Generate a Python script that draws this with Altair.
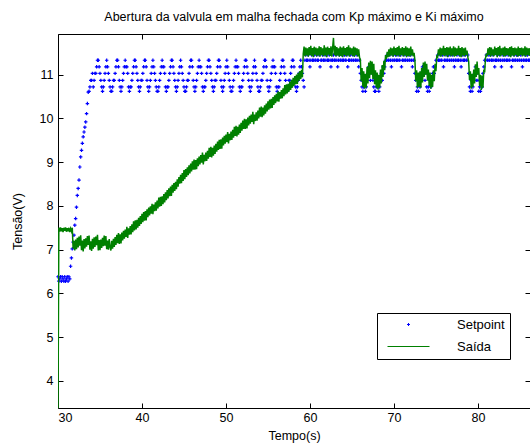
import altair as alt
import pandas as pd

DT = 0.1  # sampling period of the acquisition (s)

# Quantised levels of the setpoint signal (V)
A, B, C, D, E, F, G = 10.62, 10.72, 10.87, 11.03, 11.18, 11.33, 11.45

# ---------------- Setpoint ----------------
sp_inicio = [6.38, 6.28, 6.33, 6.38, 6.28, 6.38, 6.33, 6.28, 6.38, 6.28,
             6.33, 6.38, 6.28, 6.38, 6.33]
sp_rampa = [6.62, 6.81, 7.02, 7.17, 7.33, 7.56, 7.71, 7.97, 8.24, 8.40, 8.59,
            8.89, 9.12, 9.27, 9.43, 9.58, 9.69, 9.80, 9.92, 10.11, 10.34, 10.60]
sp_oscila = [A, B, C, C, D, B, C, D,
             D, E, F, F, E, D, C, B, A, B, C,
             D, E, F, E, D, C, B, A, A, B, C,
             C, D, E, F, F, E, C, B, A, B, C,
             D, E, F, E, E, D, B, A, B, B, C,
             D, E, F, F, E, D, C, B, A, B, C,
             C, D, E, F, F, E, C, B, A, B, C,
             D, E, F, E, D, C, B, A, A, B, C,
             D, E, F, E, E, D, B, A, B, B, C,
             D, E, F, F, E, D, C, B, A, B, C,
             D, E, F, E, D, C, B, A, A, B, C,
             C, D, E, F, F, E, C, B, A, B, C,
             D, E, F, E, E, D, B, A, B, B, C,
             D, E, F, F, E, D, C, B, A, B, C,
             C, D, E, F, F, E, C, B, A, B, C,
             D, E, F, E, D, C, B, A, A, B, C,
             D, E, F, E, E, D, B, A, B, B, C,
             D, E, F, F, E, D, C, B, A, B, C,
             D, E, F, E, D, C, B, A, A, B, C,
             C, D, E, F, F, E, C, B, A, B, C,
             D, E, F, E, E, D, B, A, B, B, C,
             D, E, F, F, E, D, C, B, A, B, C,
             C, D, E, F, F, E, C, B, A, B, C,
             D, E, F, E, D, C, B]
sp_patamar_1 = [F, G, F, F, G, F, E, F, G, F, F,
                G, F, F, G, F, F, G, E, F, F, G,
                F, F, G, F, G, F, F, G, F, E, F,
                F, G, F, F, G, F, E, F, G, F, F,
                G, F, F, G, F, F, G, E, F, F, G,
                F, F, G, F, G, F, F, G, F, E, F]
sp_queda_1 = [D, C, B, A, B, C, A, B, C, D, E, D, C, E, D, C, B, A, A, B,
              C, B, A, B, C, D, C, E, D, E, F]
sp_patamar_2 = [F, G, F, F, G, F, E, F, G, F, F,
                G, F, F, G, F, F, G, E, F, F, G,
                F, F, G, F, G, F, F, G, F, E, F, F]
sp_queda_2 = [D, C, A, B, A, C, B, D, C, E, D, E, C, D, B, A, B, A, C, B,
              C, D, E, D, E, F, F]
sp_patamar_3 = [G, F, F, G, F, F, G, E, F, F, G,
                F, F, G, F, G, F, F, G, F, E, F,
                F, G, F, F, G, F, E, F, G, F, F,
                G, F, F, G]
sp_queda_3 = [D, B, A, C, A, B, C, D, E, C, D, C, A, B, A, C, B, D, E, F,
              F, G]
sp_patamar_4 = [F, F, G, F, G, F, F, G, F, E, F,
                F, G, F, F, G, F, E, F, G, F, F,
                G, F, F, G, F, F, G, E, F, F, G,
                F, F, G, F, G, F, F, G, F, E, F,
                F, G, F, F, G, F, F, F]

# ---------------- Saída (measured output) ----------------
saida_partida = [3.38]
saida_inicial = [7.50, 7.41, 7.51, 7.42, 7.49, 7.40, 7.50, 7.43, 7.51, 7.41,
                 7.49, 7.42, 7.50, 7.40, 7.48, 7.42, 7.50]
saida_degrau = [7.02, 7.20, 6.98, 7.23, 7.01, 7.27, 7.05, 7.30, 7.09, 7.33,
                6.99, 7.21, 6.96, 7.24, 7.03, 7.26, 7.07, 7.31, 7.11, 7.32,
                7.00, 7.19, 6.97, 7.25, 7.02, 7.28, 7.06, 7.30, 7.10, 7.34,
                6.98, 7.22, 6.99, 7.23, 7.04, 7.27, 7.08, 7.32, 7.09, 7.31,
                7.01, 7.21, 7.00, 7.24, 7.06]
saida_rampa = [6.98, 7.20, 7.02, 7.25, 7.06, 7.29, 7.11, 7.34, 7.15, 7.38,
               7.13, 7.35, 7.14, 7.39, 7.21, 7.43, 7.25, 7.46, 7.29, 7.52,
               7.27, 7.49, 7.34, 7.54, 7.35, 7.58, 7.40, 7.65, 7.44, 7.67,
               7.46, 7.68, 7.50, 7.73, 7.54, 7.77, 7.59, 7.82, 7.63, 7.86,
               7.66, 7.88, 7.67, 7.92, 7.74, 7.96, 7.78, 7.99, 7.82, 8.05,
               7.81, 8.03, 7.88, 8.08, 7.89, 8.12, 7.94, 8.19, 7.98, 8.21,
               8.00, 8.22, 8.04, 8.27, 8.08, 8.31, 8.13, 8.36, 8.17, 8.40,
               8.22, 8.44, 8.23, 8.48, 8.30, 8.52, 8.34, 8.55, 8.38, 8.61,
               8.44, 8.66, 8.51, 8.71, 8.52, 8.75, 8.57, 8.82, 8.61, 8.84,
               8.66, 8.88, 8.70, 8.93, 8.74, 8.97, 8.79, 9.02, 8.83, 9.06,
               8.83, 9.05, 8.84, 9.09, 8.91, 9.13, 8.95, 9.16, 8.99, 9.22,
               8.95, 9.17, 9.02, 9.22, 9.03, 9.26, 9.08, 9.33, 9.12, 9.35,
               9.11, 9.33, 9.15, 9.38, 9.19, 9.42, 9.24, 9.47, 9.28, 9.51,
               9.30, 9.52, 9.31, 9.56, 9.38, 9.60, 9.42, 9.63, 9.46, 9.69,
               9.43, 9.65, 9.50, 9.70, 9.51, 9.74, 9.56, 9.81, 9.60, 9.83,
               9.59, 9.81, 9.63, 9.86, 9.67, 9.90, 9.72, 9.95, 9.76, 9.99,
               9.76, 9.98, 9.77, 10.02, 9.84, 10.06, 9.88, 10.09, 9.92, 10.15,
               9.87, 10.09, 9.94, 10.14, 9.95, 10.18, 10.00, 10.25, 10.04, 10.27,
               10.03, 10.25, 10.07, 10.30, 10.11, 10.34, 10.16, 10.39, 10.20, 10.43,
               10.23, 10.45, 10.24, 10.49, 10.31, 10.53, 10.35, 10.56, 10.39, 10.62,
               10.38, 10.60, 10.45, 10.65, 10.46, 10.69, 10.51, 10.76, 10.55, 10.78,
               10.57, 10.79, 10.61, 10.84, 10.65, 10.88, 10.70, 10.93, 10.74, 10.97,
               10.78, 11.00, 10.79, 11.04, 10.86, 11.08, 10.90, 11.11, 10.94]
saida_alta_1 = [11.48, 11.64, 11.42, 11.62, 11.44, 11.60, 11.41, 11.63, 11.45, 11.66,
                11.43, 11.61, 11.40, 11.64, 11.46, 11.62, 11.42, 11.60, 11.44, 11.65,
                11.41, 11.63, 11.45, 11.60, 11.42, 11.67, 11.44, 11.62, 11.40, 11.64,
                11.46, 11.61, 11.43, 11.65, 11.41, 11.62, 11.84, 11.45, 11.66, 11.42,
                11.63, 11.44, 11.60, 11.41, 11.64, 11.43, 11.62, 11.40, 11.65, 11.45,
                11.61, 11.42, 11.63, 11.44, 11.67, 11.41, 11.62, 11.46, 11.60, 11.43,
                11.64, 11.41, 11.62, 11.45, 11.60, 11.42, 11.58, 11.40]
saida_queda_1 = [11.35, 10.85, 11.15, 10.72, 11.08, 10.68, 11.02, 10.70, 11.18, 10.80,
                 11.28, 10.92, 11.32, 11.00, 11.30, 10.90, 11.25, 10.78, 11.10, 10.70,
                 11.05, 10.66, 11.00, 10.70, 11.12, 10.80, 11.22, 10.95, 11.32, 11.10,
                 11.45]
saida_alta_2 = [11.36, 11.52, 11.40, 11.58, 11.42, 11.62, 11.44, 11.60, 11.41, 11.64,
                11.45, 11.61, 11.42, 11.63, 11.44, 11.66, 11.41, 11.60, 11.45, 11.63,
                11.42, 11.61, 11.44, 11.65, 11.40, 11.62, 11.43, 11.60, 11.41, 11.64,
                11.44, 11.58, 11.42, 11.50]
saida_queda_2 = [11.32, 10.85, 11.10, 10.70, 11.05, 10.72, 11.08, 10.70, 11.15, 10.82,
                 11.28, 10.95, 11.30, 11.00, 11.25, 10.86, 11.12, 10.74, 11.05, 10.68,
                 11.00, 10.72, 11.10, 10.85, 11.25, 11.08, 11.42]
saida_alta_3 = [11.40, 11.58, 11.44, 11.62, 11.41, 11.60, 11.45, 11.66, 11.42, 11.61,
                11.44, 11.63, 11.40, 11.62, 11.45, 11.64, 11.42, 11.60, 11.44, 11.65,
                11.41, 11.62, 11.43, 11.60, 11.45, 11.66, 11.42, 11.61, 11.40, 11.63,
                11.44, 11.60, 11.42, 11.62, 11.45, 11.55, 11.40]
saida_queda_3 = [11.30, 10.88, 11.08, 10.68, 11.02, 10.72, 11.12, 10.80, 11.24, 10.95,
                 11.30, 11.00, 11.15, 10.74, 11.00, 10.65, 10.98, 10.70, 11.12, 11.05,
                 11.38, 11.48]
saida_alta_4 = [11.42, 11.60, 11.45, 11.63, 11.41, 11.62, 11.44, 11.58, 11.42, 11.64,
                11.45, 11.61, 11.40, 11.63, 11.44, 11.66, 11.42, 11.60, 11.45, 11.62,
                11.41, 11.64, 11.43, 11.61, 11.45, 11.60, 11.42, 11.63, 11.40, 11.65,
                11.44, 11.61, 11.42, 11.62, 11.45, 11.60, 11.41, 11.64, 11.43, 11.61,
                11.45, 11.62, 11.42, 11.60, 11.44, 11.65, 11.41, 11.62, 11.45, 11.60,
                11.43, 11.61]

# (start time in s, samples) for each stretch of the record
trechos_setpoint = [(30.0, sp_inicio), (31.5, sp_rampa), (33.7, sp_oscila),
                    (59.4, sp_patamar_1), (66.0, sp_queda_1), (69.1, sp_patamar_2),
                    (72.5, sp_queda_2), (75.2, sp_patamar_3), (78.9, sp_queda_3),
                    (81.1, sp_patamar_4)]
trechos_saida = [(30.0, saida_partida), (30.1, saida_inicial), (31.8, saida_degrau),
                 (36.3, saida_rampa), (59.2, saida_alta_1), (66.0, saida_queda_1),
                 (69.1, saida_alta_2), (72.5, saida_queda_2), (75.2, saida_alta_3),
                 (78.9, saida_queda_3), (81.1, saida_alta_4)]

marcas_x = [30, 40, 50, 60, 70, 80]
marcas_y = [4, 5, 6, 7, 8, 9, 10, 11]


def tabela(trechos, nome):
    linhas = []
    for t0, valores in trechos:
        for k, v in enumerate(valores):
            linhas.append({"t": round(t0 + k * DT, 2), "v": v, "serie": nome})
    return pd.DataFrame(linhas)


df_sp = tabela(trechos_setpoint, "Setpoint")
df_saida = tabela(trechos_saida, "Saída")

LARG, ALT = 472, 374
FONTE = "Liberation Sans"
PONTO = "M-1,0L1,0M0,-1L0,1"  # small "+" marker

escala_x = alt.Scale(domain=[30, 86.2], nice=False, zero=False)
escala_y = alt.Scale(domain=[3.38, 11.93], nice=False, zero=False)


def eixo_tracos(orient, offset, valores):
    # tick marks pointing into the plot box, no labels
    return alt.Axis(orient=orient, offset=offset, values=valores, labels=False,
                    domain=False, grid=False, ticks=True, tickSize=5,
                    tickColor="black", tickWidth=1, title=None)


legenda = alt.Legend(
    title=None, orient="none", legendX=319, legendY=279,
    fillColor="white", strokeColor="black", padding=5,
    symbolSize=100, symbolOffset=20, labelOffset=42, rowPadding=8,
    labelFont=FONTE, labelFontSize=13, labelColor="black",
    symbolFillColor="transparent", symbolStrokeWidth=1,
    symbolType=alt.ExprRef(
        "datum.value === 'Saída' ? 'M-4.2,0L4.2,0' : 'M-0.3,0L0.3,0M0,-0.3L0,0.3'"),
)

cor = alt.Color("serie:N",
                scale=alt.Scale(domain=["Setpoint", "Saída"], range=["#0000ff", "#008000"]),
                legend=legenda)

pontos = alt.Chart(df_sp).mark_point(shape=PONTO, filled=False, size=12,
                                     strokeWidth=1.2, opacity=1).encode(
    x=alt.X("t:Q", scale=escala_x, axis=eixo_tracos("top", -ALT, marcas_x)),
    y=alt.Y("v:Q", scale=escala_y, axis=eixo_tracos("right", -LARG, marcas_y)),
    color=cor,
)

linha = alt.Chart(df_saida).mark_line(strokeWidth=1.5, clip=True).encode(
    x=alt.X("t:Q", scale=escala_x,
            axis=alt.Axis(orient="bottom", values=marcas_x, ticks=False, tickSize=0,
                          domain=False, grid=False, labelPadding=3.5, title="Tempo(s)",
                          titlePadding=5)),
    y=alt.Y("v:Q", scale=escala_y,
            axis=alt.Axis(orient="left", values=marcas_y, ticks=False, tickSize=0,
                          domain=False, grid=False, labelPadding=5, title="Tensão(V)",
                          titlePadding=15)),
    color=cor,
)

tracos = alt.Chart(df_saida).mark_line(opacity=0).encode(
    x=alt.X("t:Q", scale=escala_x, axis=eixo_tracos("bottom", -ALT, marcas_x)),
    y=alt.Y("v:Q", scale=escala_y, axis=eixo_tracos("left", -LARG, marcas_y)),
)

chart = (
    alt.layer(pontos, linha, tracos)
    .resolve_axis(x="independent", y="independent")
    .properties(
        width=LARG, height=ALT, autosize="none",
        padding={"left": 58, "top": 34, "right": 0, "bottom": 37},
        background="white",
        title=alt.TitleParams(
            "Abertura da valvula em malha fechada com Kp máximo e Ki máximo",
            font=FONTE, fontSize=12.5, fontWeight="normal", color="black",
            anchor="middle", baseline="alphabetic", offset=0.5),
    )
    .configure_view(stroke="black", strokeWidth=1)
    .configure_axis(labelFont=FONTE, labelFontSize=12.5, labelColor="black",
                    titleFont=FONTE, titleFontSize=12.5, titleFontWeight="normal",
                    titleColor="black")
)

chart.save("out.html", embed_options={"renderer": "svg", "actions": False})
